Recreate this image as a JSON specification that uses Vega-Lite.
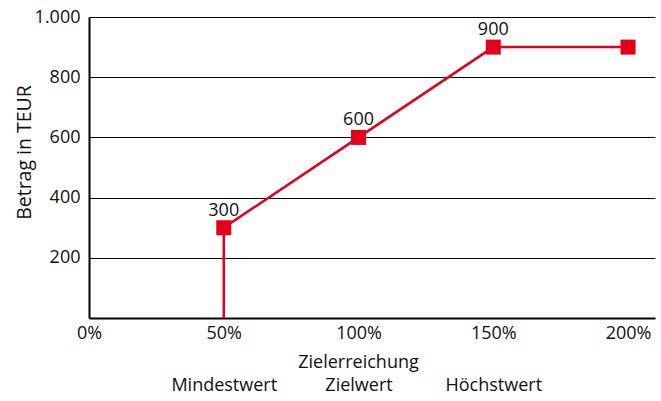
{
  "$schema": "https://vega.github.io/schema/vega-lite/v6.json",
  "autosize": "none",
  "width": 566,
  "height": 301,
  "padding": {"left": 89, "top": 17, "right": 6, "bottom": 83},
  "background": "white",
  "config": {
    "view": {"stroke": null},
    "font": "Open Sans",
    "axis": {"labelFont": "Open Sans", "titleFont": "Open Sans", "labelColor": "#111", "titleColor": "#111"}
  },
  "data": {
    "values": [
      {"step": 0, "ziel": 0.5, "betrag": 0, "label": "", "marker": false},
      {"step": 1, "ziel": 0.5, "betrag": 300, "label": "300", "marker": true},
      {"step": 2, "ziel": 1.0, "betrag": 600, "label": "600", "marker": true},
      {"step": 3, "ziel": 1.5, "betrag": 900, "label": "900", "marker": true},
      {"step": 4, "ziel": 2.0, "betrag": 900, "label": "", "marker": true}
    ]
  },
  "encoding": {
    "x": {
      "field": "ziel", "type": "quantitative",
      "scale": {"domain": [0, 2.1], "nice": false, "zero": false},
      "axis": {
        "values": [0, 0.5, 1, 1.5, 2],
        "title": "Zielerreichung",
        "titleFontSize": 18,
        "titleFontWeight": "normal",
        "titleX": 269,
        "titleY": 44,
        "titleBaseline": "middle",
        "titleAlign": "center",
        "grid": false,
        "ticks": false,
        "domainColor": "#000",
        "domainWidth": 2,
        "labelFontSize": 18,
        "labelPadding": 6,
        "labelLineHeight": 52,
        "labelFlush": false,
        "labelOverlap": false,
        "labelExpr": "datum.value == 0.5 ? ['50%', 'Mindestwert'] : datum.value == 1 ? ['100%', 'Zielwert'] : datum.value == 1.5 ? ['150%', 'Höchstwert'] : format(datum.value, '.0%')"
      }
    },
    "y": {
      "field": "betrag", "type": "quantitative",
      "scale": {"domain": [0, 1000], "nice": false},
      "axis": {
        "values": [200, 400, 600, 800, 1000],
        "title": "Betrag in TEUR",
        "titleFontSize": 19.5,
        "titleFontWeight": "normal",
        "titlePadding": 0,
        "titleY": 135,
        "grid": true,
        "gridColor": "#000",
        "gridWidth": 1,
        "gridOpacity": 1,
        "ticks": false,
        "domainColor": "#000",
        "domainWidth": 2,
        "labelFontSize": 18,
        "labelPadding": 9,
        "labelFlush": false,
        "labelExpr": "replace(datum.label, ',', '.')"
      }
    }
  },
  "layer": [
    {
      "mark": {"type": "line", "color": "#E2001A", "strokeWidth": 2.5},
      "encoding": {"order": {"field": "step", "type": "quantitative"}}
    },
    {
      "transform": [{"filter": "datum.marker"}],
      "mark": {"type": "point", "shape": "square", "filled": true, "opacity": 1, "color": "#E2001A", "size": 225}
    },
    {
      "transform": [{"filter": "datum.label != ''"}],
      "mark": {"type": "text", "fontSize": 18, "baseline": "alphabetic", "dy": -12, "color": "#111", "font": "Open Sans"},
      "encoding": {"text": {"field": "label"}}
    }
  ]
}
